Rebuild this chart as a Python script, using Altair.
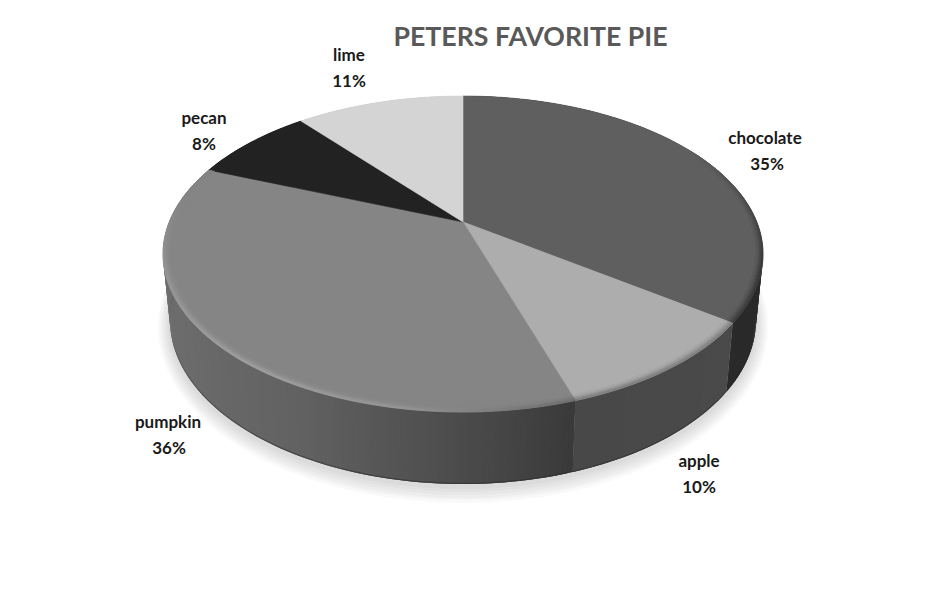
import math
import altair as alt

# ---- data
categories = ["chocolate", "apple", "pumpkin", "pecan", "lime"]
shares = [35, 10, 36, 8, 11]
face_greys = [95, 173, 133, 34, 212]

# ---- layout and style (image pixels, the page margin is removed below)
M = 8
APEX = (463, 222)
RX, BACK, FRONT = 300, 126, 190
BOTTOM = dict(cx=463, cy=320, rx=293, ry=164)
ELL_CY = 96 + (BACK + FRONT) / 2
ELL_RY = (BACK + FRONT) / 2
K = (FRONT - BACK) / (FRONT + BACK)
A = BACK * (1 + K)
B = RX * math.sqrt(1 - K * K)
LABEL_XY = {
    "chocolate": (765, 139, 767, 165),
    "apple": (699, 462, 699, 488),
    "pumpkin": (168, 423, 169, 449),
    "pecan": (204, 119, 204, 145),
    "lime": (349, 56, 349, 82),
}


def hexg(g):
    g = int(round(max(0, min(255, g))))
    return f"#{g:02x}{g:02x}{g:02x}"


def top(theta, r=1.0):
    """Perspective view of the disc; theta runs clockwise from the back, in degrees."""
    t = math.radians(theta)
    u, v = r * math.sin(t), -r * math.cos(t)
    s = 1 / (1 - K * v)
    return (APEX[0] + B * u * s, APEX[1] + A * v * s)


def low(theta):
    x, y = top(theta)
    return (BOTTOM["cx"] + (x - APEX[0]) * BOTTOM["rx"] / RX,
            BOTTOM["cy"] + (y - ELL_CY) * BOTTOM["ry"] / ELL_RY)


def feat(points, color, opacity=1.0):
    ring = [[round(x - M, 2), round(y - M, 2)] for x, y in points]
    ring.append(ring[0])
    return {
        "type": "Feature",
        "geometry": {"type": "Polygon", "coordinates": [ring]},
        "properties": {"color": color, "opacity": opacity},
    }


def interp(x, stops):
    for (x0, y0), (x1, y1) in zip(stops, stops[1:]):
        if x0 <= x <= x1:
            return y0 + (y1 - y0) * (x - x0) / (x1 - x0)
    return stops[0][1] if x < stops[0][0] else stops[-1][1]


def frange(a, b, step):
    n = max(1, int(round((b - a) / step)))
    return [a + (b - a) * i / n for i in range(n + 1)]


# cumulative angles derived from the shares
total = sum(shares)
edges = [0]
for s in shares:
    edges.append(edges[-1] + 360 * s / total)

# soft shadow under the disc
shadow = []
for grow, dy in [(12, 7), (10, 6), (8, 6), (6, 5), (4, 4), (2, 3)]:
    pts = []
    for th in frange(0, 360, 3):
        x, y = low(th)
        fx = (BOTTOM["rx"] + grow) / BOTTOM["rx"]
        fy = (BOTTOM["ry"] + grow) / BOTTOM["ry"]
        pts.append((BOTTOM["cx"] + (x - BOTTOM["cx"]) * fx,
                    BOTTOM["cy"] + dy + (y - BOTTOM["cy"]) * fy))
    shadow.append(feat(pts, "#000000", 0.025))

# side wall, as narrow strips painted back to front with an overlap
wall_stops = {
    "chocolate": [(0, 40), (126, 42)],
    "apple": [(126, 74), (162, 72)],
    "pumpkin": [(162, 58), (168, 64), (188, 82), (208, 98), (240, 108), (291.6, 112)],
    "pecan": [(291, 30), (320, 30)],
    "lime": [(320, 200), (360, 200)],
}
walls = []
for i, name in enumerate(categories):
    a, b = edges[i], edges[i + 1]
    ths = frange(a, b, 1.0)
    for t0, t1 in zip(ths, ths[1:]):
        t2 = min(b, t1 + 1.0)
        g = interp((t0 + t1) / 2, wall_stops[name])
        walls.append(feat([top(t0), top(t2), low(t2), low(t0)], hexg(g)))

# dark lower edge of the wall
edge_line = []
ths = frange(85, 285, 2)
for t0, t1 in zip(ths, ths[1:]):
    l0, l1 = low(t0), low(t1)
    edge_line.append(feat([l0, l1, (l1[0], l1[1] - 1.2), (l0[0], l0[1] - 1.2)], "#2a2a2a", 0.5))

# top face
faces = []
for i, name in enumerate(categories):
    pts = [APEX] + [top(t) for t in frange(edges[i], edges[i + 1], 1)]
    faces.append(feat(pts, hexg(face_greys[i])))

# bevel along the rim of the top face
rim_stops = {
    "chocolate": [(60, 95), (85, 72), (110, 55), (126, 62)],
    "apple": [(126, 130), (162, 125)],
    "pumpkin": [(162, 108), (175, 125), (190, 150), (215, 160), (250, 150), (268, 140), (280, 133)],
}
rims = []
for i, name in enumerate(categories):
    if name not in rim_stops:
        continue
    ths = frange(max(edges[i], 60), edges[i + 1], 1.5)
    for t0, t1 in zip(ths, ths[1:]):
        g = interp((t0 + t1) / 2, rim_stops[name])
        base = face_greys[i]
        for r0, r1, mix in [(0.994, 1.0, 1.0), (0.988, 0.994, 0.75), (0.982, 0.988, 0.4), (0.976, 0.982, 0.15)]:
            rims.append(feat([top(t0, r1), top(t1, r1), top(t1, r0), top(t0, r0)],
                             hexg(base + (g - base) * mix)))

PROJ = dict(type="identity", scale=1, translate=[0, 0])


def shapes(features, stroke_width=0.6):
    return (
        alt.Chart(alt.Data(values=features, format=alt.DataFormat(type="json")))
        .mark_geoshape(strokeWidth=stroke_width)
        .encode(
            fill=alt.Fill("properties.color:N", scale=None, legend=None),
            stroke=alt.Stroke("properties.color:N", scale=None, legend=None),
            opacity=alt.Opacity("properties.opacity:Q", scale=None, legend=None),
        )
        .project(**PROJ)
    )


def shadow_shapes(features):
    return (
        alt.Chart(alt.Data(values=features, format=alt.DataFormat(type="json")))
        .mark_geoshape(strokeWidth=0, fill="#000000", fillOpacity=0.025)
        .project(**PROJ)
    )


label_rows = []
for name, share in zip(categories, shares):
    x0, y0, x1, y1 = LABEL_XY[name]
    label_rows.append({"text": name, "x": x0 - M, "y": y0 - M})
    label_rows.append({"text": f"{share}%", "x": x1 - M, "y": y1 - M})

labels = (
    alt.Chart(alt.Data(values=label_rows))
    .mark_text(font="Lato", fontSize=17, fontWeight="bold", color="#1a1a1a", align="center", baseline="middle")
    .encode(x=alt.X("x:Q", scale=None, axis=None), y=alt.Y("y:Q", scale=None, axis=None), text="text:N")
)

title = (
    alt.Chart(alt.Data(values=[{"text": "PETERS FAVORITE PIE"}]))
    .mark_text(font="Lato", fontSize=26.7, fontWeight="bold", color="#595959", align="center", baseline="middle")
    .encode(x=alt.value(530.5 - M), y=alt.value(38 - M), text="text:N")
)

chart = alt.layer(
    shadow_shapes(shadow),
    shapes(walls, 0),
    shapes(edge_line, 0),
    shapes(faces),
    shapes(rims),
    labels,
    title,
).properties(
    width=918,
    height=573,
    padding=0,
    autosize=alt.AutoSizeParams(type="none"),
    background="white",
).configure_view(stroke=None)

chart.save("out.html", embed_options={"renderer": "svg", "actions": False})
